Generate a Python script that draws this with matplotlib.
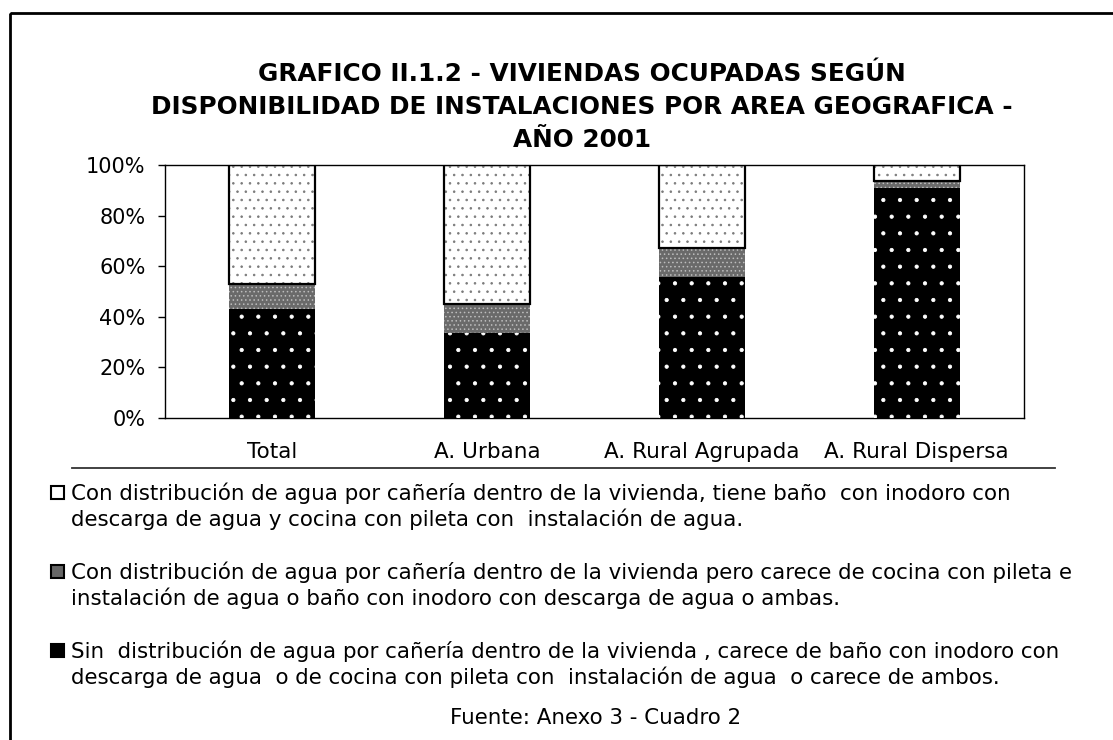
import matplotlib
matplotlib.use('Agg')
import matplotlib.pyplot as plt
from matplotlib.patches import Rectangle
from matplotlib.ticker import PercentFormatter
import numpy as np

# datos (porcentajes)
areas = ['Total', 'A. Urbana', 'A. Rural Agrupada', 'A. Rural Dispersa']
sin_agua = [43.0, 33.6, 55.7, 91.0]
con_parcial = [10.0, 11.4, 11.3, 2.6]
con_completa = [47.0, 55.0, 33.0, 6.4]

titulo = ['GRAFICO II.1.2 - VIVIENDAS OCUPADAS SEGÚN',
          'DISPONIBILIDAD DE INSTALACIONES POR AREA GEOGRAFICA -',
          'AÑO 2001']
leyenda = [
    ['Con distribución de agua por cañería dentro de la vivienda, tiene baño  con inodoro con',
     'descarga de agua y cocina con pileta con  instalación de agua.'],
    ['Con distribución de agua por cañería dentro de la vivienda pero carece de cocina con pileta e',
     'instalación de agua o baño con inodoro con descarga de agua o ambas.'],
    ['Sin  distribución de agua por cañería dentro de la vivienda , carece de baño con inodoro con',
     'descarga de agua  o de cocina con pileta con  instalación de agua  o carece de ambos.'],
]
fuente = 'Fuente: Anexo 3 - Cuadro 2'

plt.rcParams['font.family'] = ['DejaVu Sans']
plt.rcParams['hatch.linewidth'] = 0.6

W, H = 1113, 740
fig = plt.figure(figsize=(W / 100, H / 100), dpi=100)

# capa de fondo en pixeles para titulo, leyenda y marco
bg = fig.add_axes([0, 0, 1, 1])
bg.set_xlim(0, W)
bg.set_ylim(H, 0)
bg.axis('off')
bg.add_patch(Rectangle((10, 13), W, H, fill=False, lw=2, ec='black'))

for i, linea in enumerate(titulo):
    bg.text(582, 81 + 33 * i, linea, ha='center', va='baseline',
            fontsize=17.8, fontweight='bold')

bg.plot([72, 1055], [468, 468], color='#333333', lw=1.3)

estilos = [('white', '#888888', '..'),
           ('#666666', '#cccccc', '....'),
           ('black', 'white', '')]
y0 = [493, 572, 651]
for (fc, hc, ht), yy, lineas in zip(estilos, y0, leyenda):
    bg.add_patch(Rectangle((51, yy - 7), 13, 13, fc=fc, ec='black', lw=1.5))
    for j, t in enumerate(lineas):
        bg.text(71, yy + 26 * j, t, ha='left', va='center', fontsize=15.4)

bg.text(596, 718, fuente, ha='center', va='center', fontsize=15.4)

# grafico de barras apiladas
ax = fig.add_axes([165 / W, 1 - 418 / H, (1024 - 165) / W, (418 - 165) / H])
x = np.arange(len(areas))
ancho = 0.4
base = np.zeros(len(areas))
series = [sin_agua, con_parcial, con_completa]
capas = [('black', 'black', 0, 'white', '.'),
         ('#6a6a6a', '#6a6a6a', 0, '#bdbdbd', '....'),
         ('white', 'black', 1.6, '#7a7a7a', '..')]
for vals, (fc, ec, lw, hc, ht) in zip(series, capas):
    vals = np.array(vals)
    ax.bar(x, vals, ancho, bottom=base, color=fc, edgecolor=fc, linewidth=0, zorder=2)
    ax.bar(x, vals, ancho, bottom=base, color='none', edgecolor=hc, hatch=ht,
           linewidth=0, zorder=3)
    if lw:
        ax.bar(x, vals, ancho, bottom=base, color='none', edgecolor=ec,
               linewidth=lw, zorder=4)
    base += vals

ax.set_xlim(-0.5, len(areas) - 0.5)
ax.set_ylim(0, 100)
ax.set_yticks(np.arange(0, 101, 20))
ax.yaxis.set_major_formatter(PercentFormatter(decimals=0))
ax.set_xticks(x)
ax.set_xticklabels(areas)
ax.tick_params(axis='y', direction='out', length=5, width=1, labelsize=15, pad=9)
ax.tick_params(axis='x', length=0, labelsize=15.5, pad=17)
for s in ax.spines.values():
    s.set_linewidth(1.0)
    s.set_color('black')

fig.savefig('out.png', dpi=100)
